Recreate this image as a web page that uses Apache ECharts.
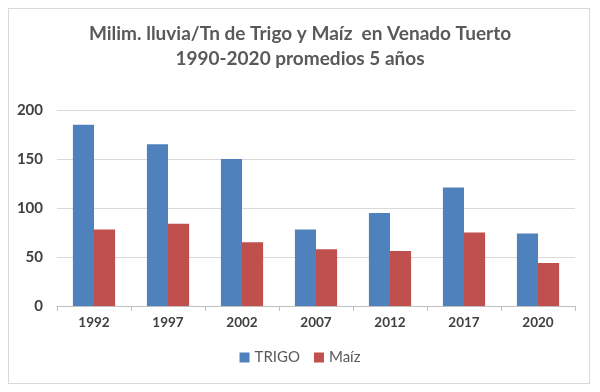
<!DOCTYPE html>
<html><head><meta charset="utf-8">
<script src="https://cdn.jsdelivr.net/npm/echarts@6/dist/echarts.min.js"></script>
<style>html,body{margin:0;padding:0;background:#fff}#c{width:600px;height:392px}
#frame{position:absolute;left:8px;top:8px;width:582px;height:376px;border:1px solid #d9d9d9;box-sizing:border-box;pointer-events:none}</style>
</head><body><div id="c"></div><div id="frame"></div>
<script>
const categories = ['1992','1997','2002','2007','2012','2017','2020'];
const trigo = [185, 165, 150, 78, 95, 121, 74];
const maiz = [78, 84, 65, 58, 56, 75, 44];
const yTicks = [0, 50, 100, 150, 200];
const FONT = 'Lato, "Open Sans", sans-serif';
const chart = echarts.init(document.getElementById('c'));
chart.setOption({
  animation: false,
  title: {
    text: 'Milim. lluvia/Tn de Trigo y Maíz  en Venado Tuerto\n1990-2020 promedios 5 años',
    left: 'center', top: 16,
    textStyle: { fontFamily: FONT, fontSize: 19, fontWeight: 'bold', color: '#595959', lineHeight: 25 }
  },
  legend: {
    bottom: 22, left: 'center', itemWidth: 10, itemHeight: 10, icon: 'rect', itemGap: 14,
    textStyle: { fontFamily: FONT, fontSize: 15, color: '#595959' },
    data: ['TRIGO', 'Maíz']
  },
  grid: { left: 57, right: 25, top: 110, bottom: 86 },
  xAxis: {
    type: 'category', data: categories,
    axisLine: { lineStyle: { color: '#bfbfbf' } },
    axisTick: { show: true, length: 5, lineStyle: { color: '#bfbfbf' } },
    axisLabel: { fontFamily: FONT, fontSize: 13.5, fontWeight: 'bold', color: '#404040', margin: 10 }
  },
  yAxis: {
    type: 'value', min: yTicks[0], max: yTicks[yTicks.length - 1], interval: 50,
    axisLine: { show: false }, axisTick: { show: false },
    splitLine: { lineStyle: { color: '#d9d9d9' } },
    axisLabel: { fontFamily: FONT, fontSize: 15, fontWeight: 'bold', color: '#404040', margin: 14 }
  },
  series: [
    { name: 'TRIGO', type: 'bar', data: trigo, barGap: '0%', barCategoryGap: '43%', itemStyle: { color: '#4F81BD' } },
    { name: 'Maíz', type: 'bar', data: maiz, barGap: '0%', barCategoryGap: '43%', itemStyle: { color: '#C0504D' } }
  ]
});
</script></body></html>
